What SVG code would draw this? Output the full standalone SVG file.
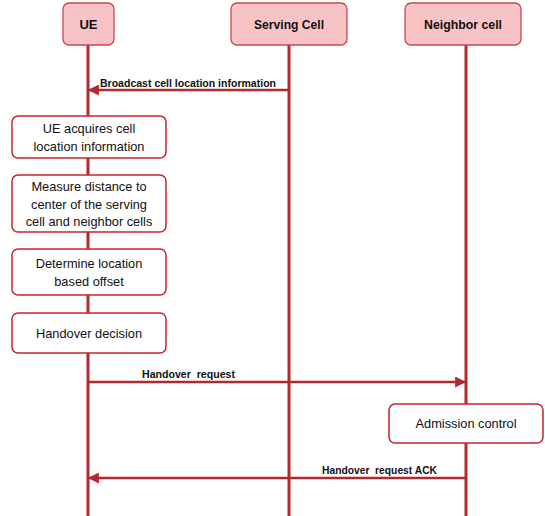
<svg xmlns="http://www.w3.org/2000/svg" width="545" height="516" viewBox="0 0 545 516">
<style>
.life{stroke:#B3282E;stroke-width:3;fill:none}
.msg{stroke:#B3282E;stroke-width:2.5;fill:none}
.head rect{fill:#F8C3C5;stroke:#C9474D;stroke-width:1.3}
.head text{font-family:"Liberation Sans",Arial,sans-serif;font-weight:bold;font-size:13px;fill:#111;text-anchor:middle}
.box rect{fill:#fff;stroke:#C0272D;stroke-width:1.5}
.box text{font-family:"Liberation Sans",Arial,sans-serif;font-size:12.8px;fill:#111;text-anchor:middle}
.lbl{font-family:"Liberation Sans",Arial,sans-serif;font-weight:bold;font-size:10.5px;fill:#111}
</style>
<defs>
<marker id="ah" viewBox="0 0 10 10" refX="9" refY="5" markerWidth="4.4" markerHeight="4.4" orient="auto" markerUnits="strokeWidth">
<path d="M0,0 L10,5 L0,10 Z" fill="#B3282E"/>
</marker>
</defs>
<rect width="545" height="516" fill="#fff"/>
<g id="lifelines">
<line class="life" x1="88" y1="45" x2="88" y2="516"/>
<line class="life" x1="289" y1="45" x2="289" y2="516"/>
<line class="life" x1="466" y1="45" x2="466" y2="516"/>
</g>
<g id="ue" class="head"><rect x="63" y="3" width="51" height="42" rx="6"/><text x="88.5" y="29">UE</text></g>
<g id="serving" class="head"><rect x="231" y="3" width="116" height="42" rx="6"/><text x="289" y="29" textLength="70" lengthAdjust="spacingAndGlyphs">Serving Cell</text></g>
<g id="neighbor" class="head"><rect x="405" y="3" width="116" height="42" rx="6"/><text x="463" y="29" textLength="78" lengthAdjust="spacingAndGlyphs">Neighbor cell</text></g>
<g id="connectors">
<line class="msg" x1="289" y1="90" x2="89" y2="90" marker-end="url(#ah)"/>
<text class="lbl" x="100" y="87" textLength="176" lengthAdjust="spacingAndGlyphs">Broadcast cell location information</text>
<line class="msg" x1="88" y1="382" x2="465" y2="382" marker-end="url(#ah)"/>
<text class="lbl" x="142" y="378" xml:space="preserve" textLength="93" lengthAdjust="spacingAndGlyphs">Handover  request</text>
<line class="msg" x1="466" y1="478" x2="89" y2="478" marker-end="url(#ah)"/>
<text class="lbl" x="322" y="474" xml:space="preserve" textLength="115" lengthAdjust="spacingAndGlyphs">Handover  request ACK</text>
</g>
<g id="acquire" class="box"><rect x="12" y="116" width="154" height="42" rx="6"/><text x="89" y="132.5">UE acquires cell</text><text x="89" y="150.5">location information</text></g>
<g id="measure" class="box"><rect x="12" y="175" width="154" height="57" rx="6"/><text x="89" y="191">Measure distance to</text><text x="89" y="208.5">center of the serving</text><text x="89" y="226">cell and neighbor cells</text></g>
<g id="determine" class="box"><rect x="12" y="249" width="154" height="46" rx="6"/><text x="89" y="268">Determine location</text><text x="89" y="285.5">based offset</text></g>
<g id="decision" class="box"><rect x="12" y="313" width="154" height="40" rx="6"/><text x="89" y="337.5">Handover decision</text></g>
<g id="admission" class="box"><rect x="389" y="404" width="154" height="39" rx="6"/><text x="466" y="428">Admission control</text></g>
</svg>
